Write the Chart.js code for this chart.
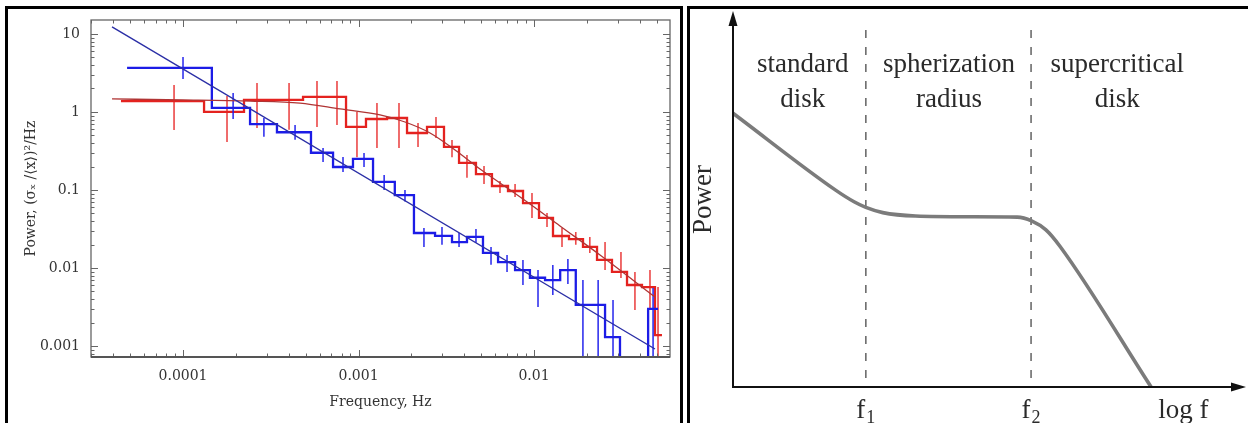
<!DOCTYPE html>
<html>
<head>
<meta charset="utf-8">
<script src="https://cdn.jsdelivr.net/npm/chart.js@4.4.0/dist/chart.umd.min.js"></script>
<style>
html, body { margin: 0; padding: 0; background: #fff; width: 1248px; height: 423px; overflow: hidden; }
body { position: relative; }
.frame { position: absolute; box-sizing: border-box; border: 3px solid #000; }
#leftFrame { left: 5px; top: 6px; width: 678px; height: 480px; }
#rightFrame { left: 687px; top: 6px; width: 620px; height: 480px; }
canvas { position: absolute; top: 0; }
#psd { left: 0; }
#sketch { left: 684px; }
</style>
</head>
<body>
<div class="frame" id="leftFrame"></div>
<div class="frame" id="rightFrame"></div>
<canvas id="psd" width="684" height="423"></canvas>
<canvas id="sketch" width="564" height="423"></canvas>
<script>
// left panel: power spectra (Hz, (rms/mean)^2/Hz)
var xTickVals = [1e-4, 1e-3, 1e-2];
var xTickLabels = ['0.0001', '0.001', '0.01'];
var yTickVals = [10, 1, 0.1, 0.01, 0.001];
var yTickLabels = ['10', '1', '0.1', '0.01', '0.001'];

var blueEdges = [4.80e-5, 1.46e-4, 2.41e-4, 3.43e-4, 5.36e-4, 7.16e-4, 9.30e-4, 1.21e-3, 1.61e-3, 2.07e-3, 2.73e-3, 3.41e-3, 4.15e-3, 5.12e-3, 6.24e-3, 7.80e-3, 9.48e-3, 1.156e-2, 1.41e-2, 1.73e-2, 2.08e-2, 2.54e-2, 3.09e-2, 4.47e-2, 5.09e-2];
var bluePower = [3.67, 1.13, 0.70, 0.55, 0.30, 0.197, 0.25, 0.127, 0.086, 0.0281, 0.0258, 0.0215, 0.025, 0.0156, 0.0119, 0.0094, 0.0075, 0.0070, 0.0094, 0.00336, 0.00336, 0.0013, 0.0003, 0.0030];
var blueErrFreq = [1.0e-4, 1.93e-4, 2.89e-4, 4.35e-4, 6.28e-4, 8.16e-4, 1.075e-3, 1.40e-3, 1.84e-3, 2.36e-3, 2.99e-3, 3.74e-3, 4.67e-3, 5.69e-3, 7.02e-3, 8.65e-3, 1.054e-2, 1.28e-2, 1.56e-2, 1.90e-2, 2.32e-2, 2.82e-2, 4.77e-2];
var blueErrHi = [5.07, 1.75, 0.84, 0.68, 0.345, 0.265, 0.298, 0.156, 0.10, 0.0326, 0.0335, 0.028, 0.0316, 0.0186, 0.0147, 0.0127, 0.0094, 0.0109, 0.013, 0.0070, 0.0070, 0.0039, 0.00554];
var blueErrLo = [2.65, 0.81, 0.48, 0.44, 0.228, 0.170, 0.197, 0.10, 0.071, 0.0186, 0.0198, 0.0186, 0.021, 0.011, 0.0089, 0.00605, 0.00317, 0.0045, 0.00624, 0.0003, 0.0003, 0.0003, 0.0003];

var redEdges = [4.43e-5, 1.318e-4, 2.226e-4, 3.257e-4, 4.83e-4, 6.61e-4, 8.49e-4, 1.103e-3, 1.454e-3, 1.890e-3, 2.457e-3, 3.07e-3, 3.74e-3, 4.67e-3, 5.76e-3, 7.11e-3, 8.66e-3, 1.068e-2, 1.283e-2, 1.583e-2, 1.902e-2, 2.286e-2, 2.782e-2, 3.389e-2, 4.124e-2, 4.89e-2, 5.36e-2];
var redPower = [1.38, 1.0, 1.43, 1.43, 1.56, 1.56, 0.643, 0.813, 0.837, 0.538, 0.643, 0.356, 0.222, 0.160, 0.1125, 0.0971, 0.068, 0.0438, 0.0257, 0.0235, 0.0186, 0.0127, 0.0089, 0.00605, 0.0057, 0.00138];
var redErrFreq = [8.89e-5, 1.781e-4, 2.64e-4, 4.02e-4, 5.80e-4, 7.54e-4, 9.80e-4, 1.274e-3, 1.701e-3, 2.183e-3, 2.764e-3, 3.41e-3, 4.15e-3, 5.19e-3, 6.40e-3, 7.80e-3, 9.74e-3, 1.186e-2, 1.444e-2, 1.73e-2, 2.08e-2, 2.54e-2, 3.13e-2, 3.76e-2, 4.58e-2, 5.09e-2];
var redErrHi = [2.22, 1.60, 2.35, 2.35, 2.50, 2.50, 1.0, 1.30, 1.30, 0.723, 0.863, 0.437, 0.281, 0.203, 0.130, 0.119, 0.0916, 0.0507, 0.0326, 0.029, 0.025, 0.0215, 0.016, 0.0089, 0.0094, 0.0057];
var redErrLo = [0.588, 0.412, 0.624, 0.59, 0.643, 0.681, 0.263, 0.345, 0.345, 0.356, 0.464, 0.263, 0.143, 0.119, 0.0916, 0.0813, 0.0438, 0.0336, 0.0186, 0.0198, 0.0156, 0.0094, 0.00745, 0.0029, 0.0029, 0.0003];

var redFitFreq = [3.94e-5, 1.0e-4, 2.41e-4, 4.64e-4, 7.85e-4, 1.326e-3, 1.84e-3, 2.556e-3, 3.548e-3, 4.924e-3, 6.40e-3, 9.48e-3, 1.406e-2, 2.378e-2, 4.89e-2];
var redFitPower = [1.468, 1.43, 1.38, 1.30, 1.093, 0.915, 0.744, 0.538, 0.326, 0.186, 0.123, 0.0661, 0.0346, 0.01468, 0.00425];
var blueFitFreq = [3.94e-5, 4.89e-2];
var blueFitPower = [12.3, 0.000915];

// right panel: schematic spectrum (arbitrary log f / power units)
var specLogF = [0, 2.00, 2.36, 2.59, 2.92, 3.56, 4.62, 5.54, 5.82, 6.10, 6.38, 8.15];
var specPower = [7.30, 5.25, 4.94, 4.79, 4.65, 4.56, 4.54, 4.53, 4.43, 4.19, 3.74, 0];
var breakLogF = [2.59, 5.81];
var breakSubs = ['1', '2'];
var regionNames = [['standard', 'disk'], ['spherization', 'radius'], ['supercritical', 'disk']];
var regionCenters = [1.36, 4.21, 7.49];

function stepPoints(edges, vals){
	var pts = [];
	for (var i = 0; i < vals.length; i++) {
		pts.push({x: edges[i], y: vals[i]});
		pts.push({x: edges[i + 1], y: vals[i]});
	}
	return pts;
}
function errPoints(freq, lo, hi){
	var pts = [];
	for (var i = 0; i < freq.length; i++) {
		pts.push({x: freq[i], y: lo[i]});
		pts.push({x: freq[i], y: hi[i]});
		pts.push({x: freq[i], y: null});
	}
	return pts;
}
function linePoints(xs, ys){
	return xs.map(function(x, i){ return {x: x, y: ys[i]}; });
}

var boxPlugin = {
	id: 'box',
	afterDatasetsDraw: function(chart){
		var ctx = chart.ctx, a = chart.chartArea;
		var sx = chart.scales.x, sy = chart.scales.y;
		ctx.save();
		ctx.strokeStyle = '#666';
		ctx.lineWidth = 1;
		ctx.beginPath();
		for (var d = 1e-5; d < 1; d *= 10) {
			for (var m = 1; m < 10; m++) {
				var v = m * d;
				if (v < sx.min || v > sx.max) continue;
				var px = Math.round(sx.getPixelForValue(v)) + 0.5, len = m == 1 ? 7 : 3.5;
				ctx.moveTo(px, a.bottom); ctx.lineTo(px, a.bottom - len);
				ctx.moveTo(px, a.top); ctx.lineTo(px, a.top + len);
			}
		}
		for (var d = 1e-4; d < 100; d *= 10) {
			for (var m = 1; m < 10; m++) {
				var v = m * d;
				if (v < sy.min || v > sy.max) continue;
				var py = Math.round(sy.getPixelForValue(v)) + 0.5, len = m == 1 ? 7 : 3.5;
				ctx.moveTo(a.left, py); ctx.lineTo(a.left + len, py);
				ctx.moveTo(a.right, py); ctx.lineTo(a.right - len, py);
			}
		}
		ctx.stroke();
		ctx.lineWidth = 1.3;
		ctx.strokeRect(a.left, a.top, a.right - a.left, a.bottom - a.top);
		ctx.strokeStyle = '#555';
		ctx.lineWidth = 2;
		ctx.beginPath(); ctx.moveTo(a.left, a.bottom); ctx.lineTo(a.right, a.bottom); ctx.stroke();
		ctx.restore();
	}
};

function drawSpectra(){
	var serif = 'DejaVu Serif';
	new Chart(document.getElementById('psd'), {
		type: 'line',
		data: {
			datasets: [
				{ data: linePoints(blueFitFreq, blueFitPower), borderColor: '#2b2fa6', borderWidth: 1.4, pointRadius: 0, order: 1 },
				{ data: linePoints(redFitFreq, redFitPower), borderColor: '#b03434', borderWidth: 1.3, pointRadius: 0, cubicInterpolationMode: 'monotone', order: 2 },
				{ data: stepPoints(blueEdges, bluePower), borderColor: '#1c1ce6', borderWidth: 2.3, pointRadius: 0, order: 3 },
				{ data: errPoints(blueErrFreq, blueErrLo, blueErrHi), borderColor: 'rgba(30,30,235,0.9)', borderWidth: 1.6, pointRadius: 0, order: 4 },
				{ data: stepPoints(redEdges, redPower), borderColor: '#e4221f', borderWidth: 2.3, pointRadius: 0, order: 5 },
				{ data: errPoints(redErrFreq, redErrLo, redErrHi), borderColor: 'rgba(232,40,40,0.85)', borderWidth: 1.6, pointRadius: 0, order: 6 }
			]
		},
		options: {
			responsive: false,
			animation: false,
			layout: { padding: { left: 0, top: 20, right: 14, bottom: 0 } },
			plugins: { legend: { display: false }, tooltip: { enabled: false } },
			scales: {
				x: {
					type: 'logarithmic', min: 2.99e-5, max: 0.05956,
					grid: { display: false, drawTicks: false },
					border: { display: false },
					afterBuildTicks: function(s){ s.ticks = xTickVals.map(function(v){ return {value: v}; }); },
					afterFit: function(s){ s.height = 66; },
					ticks: { autoSkip: false, maxRotation: 0, padding: 11, color: '#333', font: { family: serif, size: 14 },
						callback: function(v, i){ return xTickLabels[i]; } },
					title: { display: true, text: 'Frequency, Hz', color: '#333', font: { family: serif, size: 14 }, padding: { top: 0, bottom: 12.6 } }
				},
				y: {
					type: 'logarithmic', min: 7.23e-4, max: 15.1,
					grid: { display: false, drawTicks: false },
					border: { display: false },
					afterBuildTicks: function(s){ s.ticks = yTickVals.map(function(v){ return {value: v}; }); },
					afterFit: function(s){ s.width = 91; },
					ticks: { autoSkip: false, padding: 11, color: '#333', font: { family: serif, size: 14 },
						callback: function(v, i){ return yTickLabels[i]; } },
					title: { display: true, text: 'Power, (σₓ /⟨x⟩)²/Hz', color: '#333', font: { family: serif, size: 14 }, padding: { top: 22.6, bottom: 0 } }
				}
			}
		},
		plugins: [boxPlugin]
	});
}

function drawSub(ctx, base, sub, cx, baseline){
	ctx.font = '27px "Liberation Serif"';
	var w1 = ctx.measureText(base).width;
	ctx.font = '18px "Liberation Serif"';
	var w2 = ctx.measureText(sub).width;
	var x = cx - (w1 + w2 + 1) / 2;
	ctx.textAlign = 'left';
	ctx.font = '27px "Liberation Serif"';
	ctx.fillText(base, x, baseline);
	ctx.font = '18px "Liberation Serif"';
	ctx.fillText(sub, x + w1 + 1, baseline + 5);
}

var sketchPlugin = {
	id: 'sketch',
	afterDraw: function(chart){
		var ctx = chart.ctx, a = chart.chartArea;
		var sx = chart.scales.x, sy = chart.scales.y;
		var x0 = sx.getPixelForValue(0), y0 = sy.getPixelForValue(0);
		ctx.save();
		ctx.strokeStyle = '#111';
		ctx.fillStyle = '#111';
		ctx.lineWidth = 2;
		ctx.beginPath();
		ctx.moveTo(x0, y0 + 1); ctx.lineTo(x0, a.top + 10);
		ctx.moveTo(x0 - 1, y0); ctx.lineTo(a.right - 10, y0);
		ctx.stroke();
		ctx.beginPath();
		ctx.moveTo(x0, a.top - 1); ctx.lineTo(x0 - 4.5, a.top + 14); ctx.lineTo(x0 + 4.5, a.top + 14);
		ctx.closePath(); ctx.fill();
		ctx.beginPath();
		ctx.moveTo(a.right, y0); ctx.lineTo(a.right - 15, y0 - 4.5); ctx.lineTo(a.right - 15, y0 + 4.5);
		ctx.closePath(); ctx.fill();

		ctx.fillStyle = '#2a2a2a';
		ctx.font = '27px "Liberation Serif"';
		ctx.textAlign = 'center';
		ctx.textBaseline = 'alphabetic';
		regionNames.forEach(function(lines, i){
			var cx = sx.getPixelForValue(regionCenters[i]);
			ctx.fillText(lines[0], cx, a.top + 60);
			ctx.fillText(lines[1], cx, a.top + 95);
		});
		breakLogF.forEach(function(f, i){
			drawSub(ctx, 'f', breakSubs[i], sx.getPixelForValue(f), y0 + 31);
		});
		ctx.font = '27px "Liberation Serif"';
		ctx.textAlign = 'center';
		ctx.fillText('log f', sx.getPixelForValue(8.78), y0 + 31);
		ctx.translate(x0 - 22, (a.top + y0) / 2);
		ctx.rotate(-Math.PI / 2);
		ctx.fillText('Power', 0, 0);
		ctx.restore();
	}
};

function drawSketch(){
	var dashes = breakLogF.map(function(f){
		return { data: [{x: f, y: 9.52}, {x: f, y: 0}], borderColor: '#4a4a4a', borderWidth: 1.3, borderDash: [8, 9], pointRadius: 0 };
	});
	new Chart(document.getElementById('sketch'), {
		type: 'line',
		data: {
			datasets: [
				{ data: linePoints(specLogF, specPower), borderColor: '#7b7b7b', borderWidth: 3.6, pointRadius: 0, cubicInterpolationMode: 'monotone', clip: false }
			].concat(dashes)
		},
		options: {
			responsive: false,
			animation: false,
			layout: { padding: { left: 49, right: 2, top: 12, bottom: 36 } },
			plugins: { legend: { display: false }, tooltip: { enabled: false } },
			scales: {
				x: { type: 'linear', min: 0, max: 10, display: false },
				y: { type: 'linear', min: 0, max: 10, display: false }
			}
		},
		plugins: [sketchPlugin]
	});
}

drawSpectra();
drawSketch();
</script>
</body>
</html>
